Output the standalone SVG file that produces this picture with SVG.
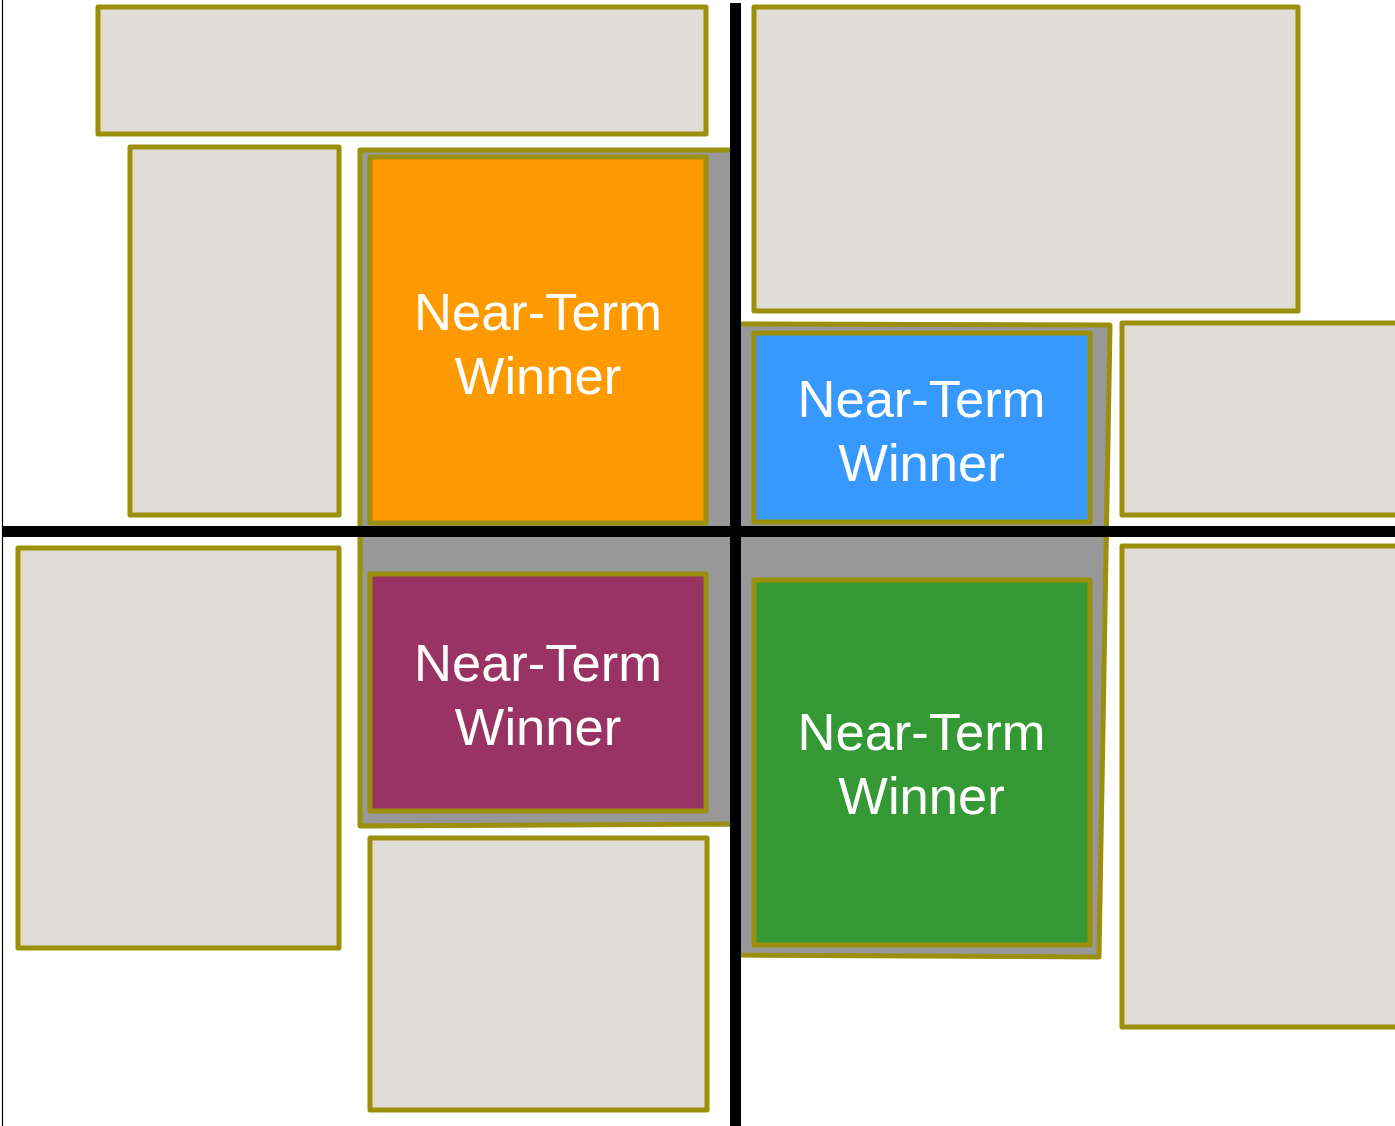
<svg xmlns="http://www.w3.org/2000/svg" width="1395" height="1126" viewBox="0 0 1395 1126">
<style>
.box{fill:#E0DCD6;stroke:#9B8F0B;stroke-width:5;stroke-linejoin:round}
.win{stroke:#9B8F0B;stroke-width:5;stroke-linejoin:round}
.zone{fill:#989898;stroke:#9B8F0B;stroke-width:5;stroke-linejoin:round}
.t{font-family:"Liberation Sans",Arial,sans-serif;font-size:52.5px;fill:#FFFFFF;text-anchor:middle}
.axis{stroke:#000;stroke-width:11}
</style>
<rect x="0" y="0" width="1395" height="1126" fill="#FFFFFF"/>
<line x1="2.5" y1="0" x2="2.5" y2="1126" stroke="#000" stroke-width="1.2"/>
<g id="zone">
<polygon class="zone" points="360,150 736,150 736,324 1110,325 1099,957 736,955 736,824 360,826"/>
</g>
<g id="box-top-wide"><rect class="box" x="98" y="7" width="608" height="127"/></g>
<g id="box-top-right"><rect class="box" x="754" y="7" width="544" height="304"/></g>
<g id="box-left-tall"><rect class="box" x="130" y="147" width="209" height="368"/></g>
<g id="box-right-mid"><rect class="box" x="1122" y="323" width="280" height="192"/></g>
<g id="box-bottom-left"><rect class="box" x="18" y="548" width="321" height="400"/></g>
<g id="box-bottom-mid"><rect class="box" x="370" y="838" width="337" height="272"/></g>
<g id="box-bottom-right"><rect class="box" x="1122" y="546" width="280" height="481"/></g>
<g id="winner-orange">
<rect class="win" x="370" y="157" width="336" height="366" fill="#FE9A00"/>
<text class="t" x="538" y="330">Near-Term</text>
<text class="t" x="538" y="394">Winner</text>
</g>
<g id="winner-blue">
<rect class="win" x="754" y="333" width="336" height="189" fill="#3799FE"/>
<text class="t" x="921.5" y="417">Near-Term</text>
<text class="t" x="921.5" y="481">Winner</text>
</g>
<g id="winner-purple">
<rect class="win" x="370" y="574" width="336" height="237" fill="#993364"/>
<text class="t" x="538" y="681">Near-Term</text>
<text class="t" x="538" y="745">Winner</text>
</g>
<g id="winner-green">
<rect class="win" x="754" y="580" width="336" height="365" fill="#349935"/>
<text class="t" x="921.5" y="750">Near-Term</text>
<text class="t" x="921.5" y="814">Winner</text>
</g>
<g id="connectors">
<line class="axis" x1="735.5" y1="3" x2="735.5" y2="1126"/>
<line class="axis" x1="3" y1="531.5" x2="1395" y2="531.5"/>
</g>
</svg>
